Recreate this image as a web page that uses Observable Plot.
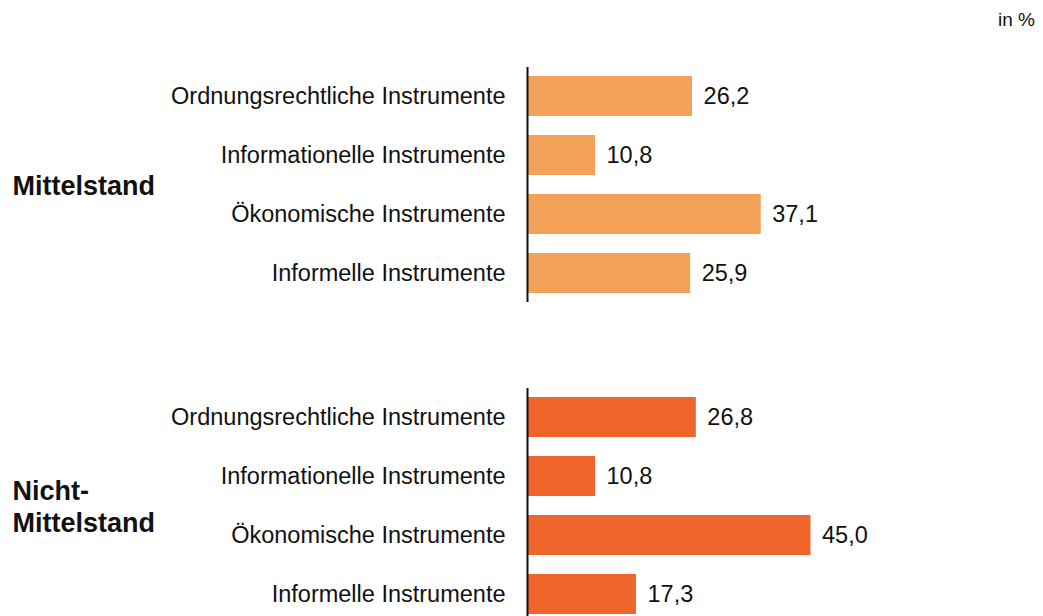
<!DOCTYPE html>
<html>
<head>
<meta charset="utf-8">
<script src="https://cdn.jsdelivr.net/npm/d3@7"></script>
<script src="https://cdn.jsdelivr.net/npm/@observablehq/plot@0.6"></script>
<style>
  html, body { margin: 0; padding: 0; background: #fff; overflow: hidden; }
  #wrap { position: relative; width: 1043px; height: 616px; overflow: hidden; }
  #unit { position: absolute; right: 8px; top: 10px; font: 19px "Liberation Sans", Arial, sans-serif; line-height: 19px; color: #111; }
</style>
</head>
<body>
<div id="wrap">
  <div id="unit">in %</div>
</div>
<script>
const groups = ["Mittelstand", "Nicht-Mittelstand"];
const groupLabels = ["Mittelstand", "Nicht-\nMittelstand"];
const categories = [
  "Ordnungsrechtliche Instrumente",
  "Informationelle Instrumente",
  "Ökonomische Instrumente",
  "Informelle Instrumente"
];
const mittelstand = [26.2, 10.8, 37.1, 25.9];
const nichtMittelstand = [26.8, 10.8, 45.0, 17.3];
const colors = ["#f4a25a", "#f06529"];

const data = [
  ...categories.map((c, i) => ({group: groups[0], category: c, value: mittelstand[i]})),
  ...categories.map((c, i) => ({group: groups[1], category: c, value: nichtMittelstand[i]}))
];
const groupData = groups.map((g, i) => ({group: g, label: groupLabels[i]}));

const de = d3.formatLocale({decimal: ",", thousands: ".", grouping: [3], currency: ["", " €"]});
const fmt = de.format(".1f");

const chart = Plot.plot({
  width: 1043,
  height: 623,
  marginLeft: 527,
  marginRight: 12,
  marginTop: 67,
  marginBottom: 0,
  style: {fontFamily: "'Liberation Sans', Arial, sans-serif", fontSize: "23.5px", color: "#111", background: "transparent"},
  x: {domain: [0, 80], axis: null},
  y: {domain: categories, axis: "left", tickSize: 0, tickPadding: 22, label: null, paddingInner: 0.32, paddingOuter: 0.15},
  fy: {domain: groups, axis: null, paddingInner: 0.268, paddingOuter: 0},
  color: {domain: groups, range: colors},
  marks: [
    Plot.barX(data, {x: "value", y: "category", fy: "group", fill: "group"}),
    Plot.ruleX([0], {stroke: "#111", strokeWidth: 2}),
    Plot.text(data, {x: "value", y: "category", fy: "group", text: d => fmt(d.value), textAnchor: "start", dx: 11, fill: "#111"}),
    Plot.text(groupData, {fy: "group", text: "label", frameAnchor: "left", textAnchor: "start", dx: -515, fontSize: 27, fontWeight: "bold", lineHeight: 1.18, fill: "#111"})
  ]
});
document.getElementById("wrap").appendChild(chart);
</script>
</body>
</html>
